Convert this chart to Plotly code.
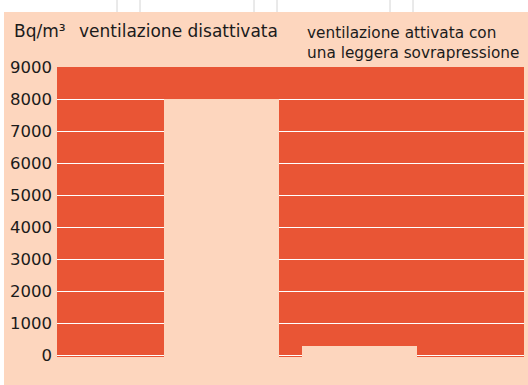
import plotly.graph_objects as go

# Radon concentration (Bq/m³) with ventilation off and with slight overpressure
categories = ["ventilazione disattivata", "ventilazione attivata con una leggera sovrapressione"]
radon_bq_m3 = [8000, 300]

y_ticks = [0, 1000, 2000, 3000, 4000, 5000, 6000, 7000, 8000, 9000]
y_floor = -45
y_top = 9000

unit_label = "Bq/m³"
label_off = "ventilazione disattivata"
label_on = "ventilazione attivata con<br>una leggera sovrapressione"

PEACH = "#FDD6BE"
ORANGE = "#E95535"
INK = "#1b1b1b"
FONT = "DejaVu Sans"

W, H = 528, 385
ML, MR, MT, MB = 57, 4, 67, 28
PW, PH = W - ML - MR, H - MT - MB


def px_x(px):
    return (px - ML) / PW


def px_y(py):
    return (H - MB - py) / PH


fig = go.Figure()
fig.add_trace(go.Bar(
    x=[0, 1],
    y=[v - y_floor for v in radon_bq_m3],
    base=y_floor,
    width=0.833,
    marker=dict(color=PEACH, line=dict(width=0)),
    hovertext=categories,
    showlegend=False,
))

shapes = [
    # white border along the top and left edges
    dict(type="rect", xref="paper", yref="paper", x0=px_x(0), x1=px_x(W),
         y0=px_y(12), y1=px_y(0), fillcolor="white", line=dict(width=0)),
    dict(type="rect", xref="paper", yref="paper", x0=px_x(0), x1=px_x(4),
         y0=px_y(H), y1=px_y(0), fillcolor="white", line=dict(width=0)),
]
for gx in [117, 140, 254, 277, 390, 413]:
    shapes.append(dict(type="line", xref="paper", yref="paper", x0=px_x(gx), x1=px_x(gx),
                       y0=px_y(12), y1=px_y(0), line=dict(color="#d4d4d4", width=1)))

annotations = [
    dict(text=unit_label, xref="paper", yref="paper", x=px_x(12), y=px_y(31),
         xanchor="left", yanchor="middle", showarrow=False, font=dict(family=FONT, size=17, color=INK)),
    dict(text=label_off, xref="paper", yref="paper", x=px_x(77), y=px_y(31),
         xanchor="left", yanchor="middle", showarrow=False, font=dict(family=FONT, size=17, color=INK)),
    dict(text=label_on, xref="paper", yref="paper", x=px_x(305), y=px_y(43),
         xanchor="left", yanchor="middle", align="left", showarrow=False,
         font=dict(family=FONT, size=15.3, color=INK)),
]

fig.update_layout(
    width=W, height=H,
    margin=dict(l=ML, r=MR, t=MT, b=MB),
    paper_bgcolor=PEACH,
    plot_bgcolor=ORANGE,
    bargap=0,
    shapes=shapes,
    annotations=annotations,
    xaxis=dict(range=[-1.192, 2.192], showticklabels=False, showgrid=False,
               zeroline=False, showline=False, ticks="", fixedrange=True),
    yaxis=dict(range=[y_floor, y_top], tickvals=y_ticks, ticktext=[str(t) for t in y_ticks],
               showgrid=True, gridcolor="white", gridwidth=1,
               zeroline=True, zerolinecolor="white", zerolinewidth=1,
               showline=False, ticks="", ticklabelstandoff=4,
               tickfont=dict(family=FONT, size=16.5, color=INK)),
)

fig.write_html("out.html")
